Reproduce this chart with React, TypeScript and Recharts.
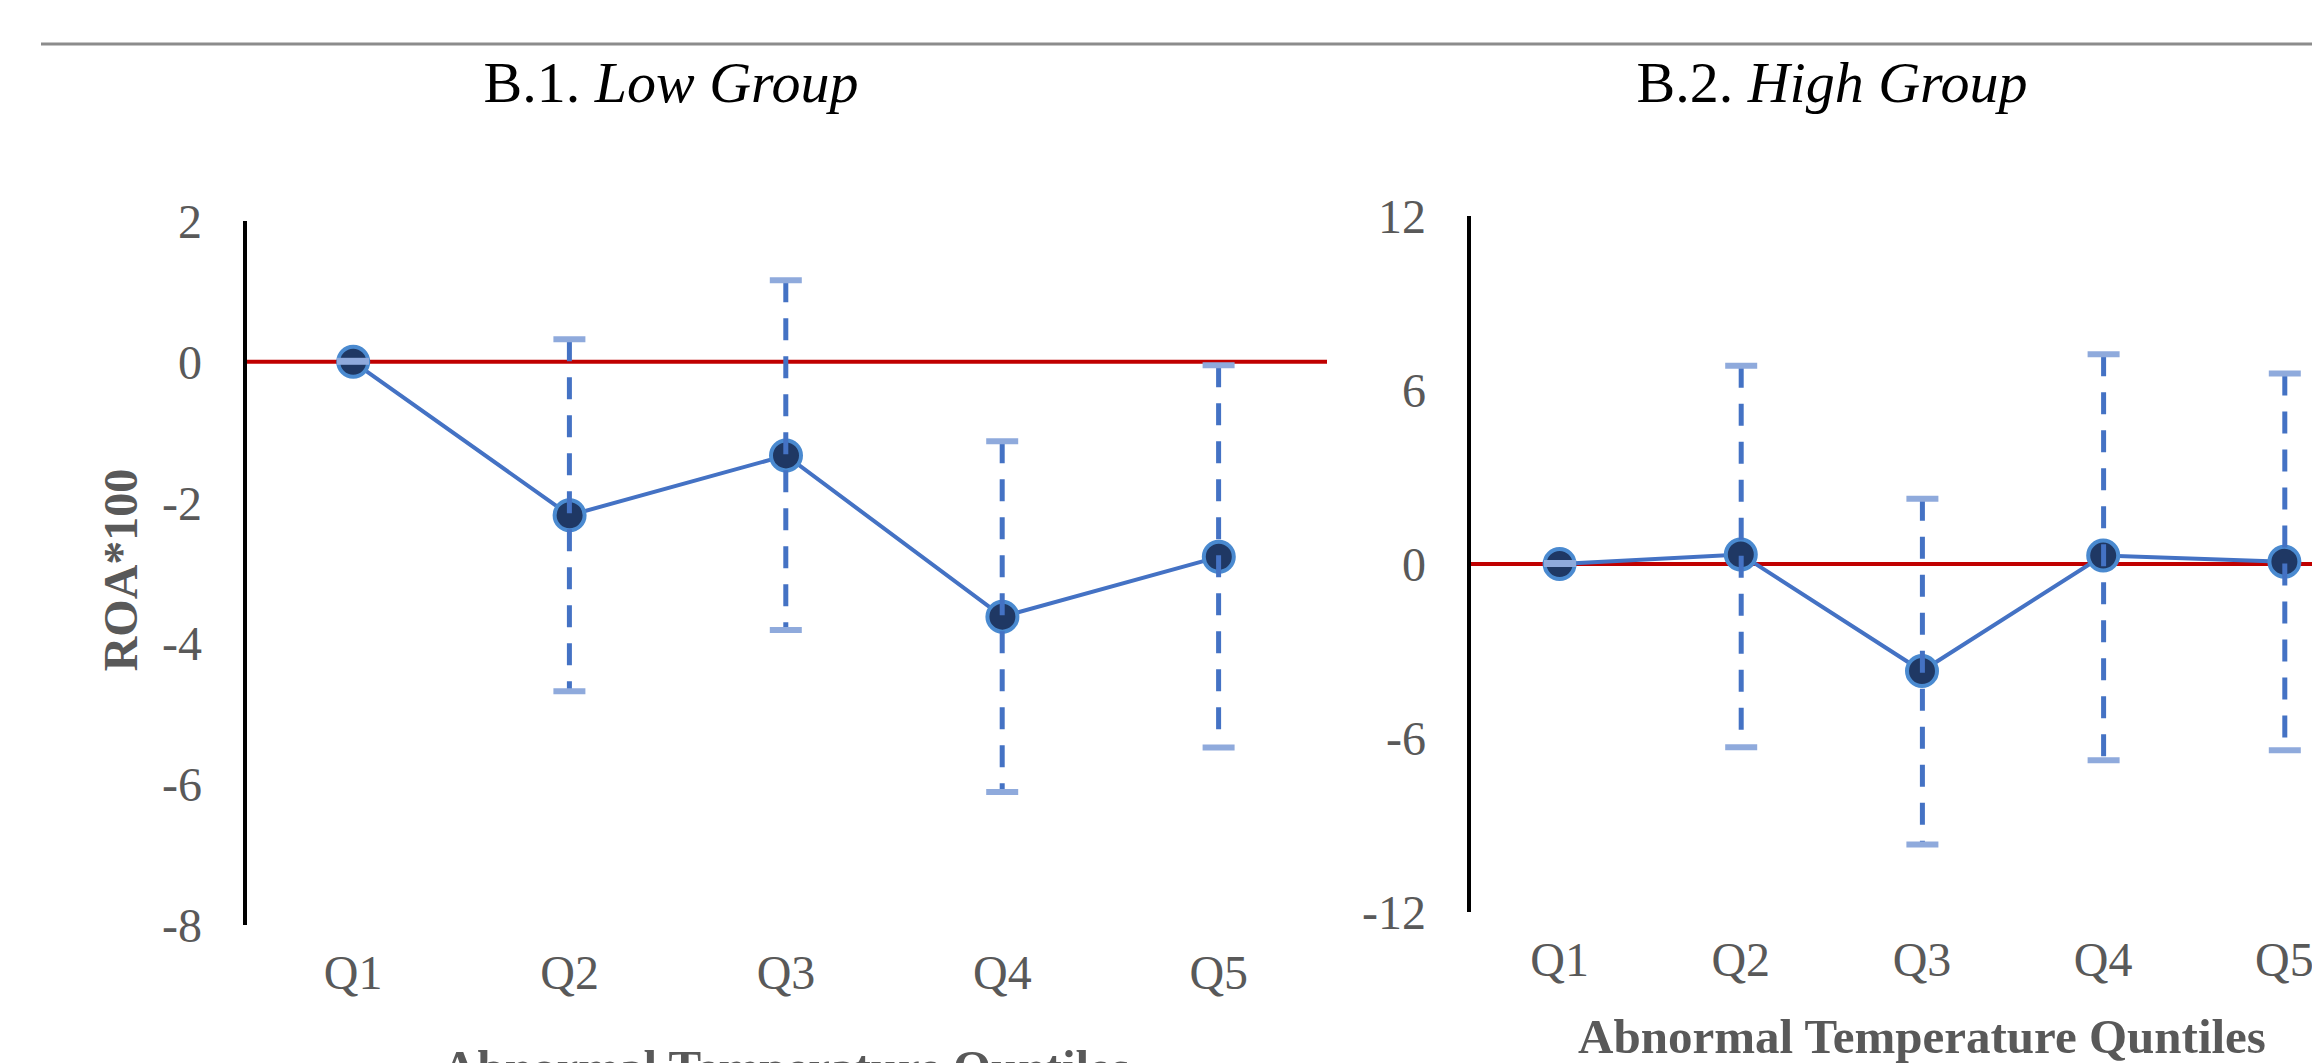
import { ComposedChart, Line, Bar, XAxis, YAxis, ReferenceLine } from 'recharts'

const quintiles = ['Q1', 'Q2', 'Q3', 'Q4', 'Q5']

// B.1 low group: point estimate and confidence bounds (ROA*100)
const lowRoa = [0, -2.18, -1.33, -3.62, -2.77]
const lowUpper = [0, 0.32, 1.16, -1.13, -0.05]
const lowLower = [0, -4.68, -3.81, -6.11, -5.48]
const lowTicks = [-8, -6, -4, -2, 0, 2]

// B.2 high group
const highRoa = [0, 0.33, -3.69, 0.29, 0.08]
const highUpper = [0, 6.84, 2.25, 7.23, 6.57]
const highLower = [0, -6.32, -9.67, -6.77, -6.42]
const highTicks = [-12, -6, 0, 6, 12]

const FONT = '"Liberation Serif", "Times New Roman", serif'
const GREY = '#595959'

const ErrorShape = (props: any) => {
  const { x, y, width, height } = props
  if (x == null || y == null) return null
  const cx = x + width / 2
  const top = Math.min(y, y + height)
  const bottom = Math.max(y, y + height)
  return (
    <g>
      <line x1={cx} x2={cx} y1={top} y2={bottom} stroke="#4472C4" strokeWidth={5} strokeDasharray="22 16" />
      <line x1={x} x2={x + width} y1={top} y2={top} stroke="#8FAADC" strokeWidth={6} />
      <line x1={x} x2={x + width} y1={bottom} y2={bottom} stroke="#8FAADC" strokeWidth={6} />
    </g>
  )
}

function Panel({ roa, lower, upper, ticks, width, margin }: any) {
  const data = quintiles.map((q, i) => ({ q, roa: roa[i], ci: [lower[i], upper[i]] }))
  const tickStyle = { fontSize: 48, fill: GREY, fontFamily: FONT }
  return (
    <ComposedChart width={width} height={1063} data={data} margin={margin}>
      <XAxis dataKey="q" axisLine={false} tickLine={false} tickSize={0} tickMargin={30} height={60} tick={tickStyle} />
      <YAxis
        domain={[ticks[0], ticks[ticks.length - 1]]}
        ticks={ticks}
        width={100}
        tickLine={false}
        tickSize={0}
        tickMargin={43}
        axisLine={{ stroke: '#000', strokeWidth: 4 }}
        tick={tickStyle}
      />
      <ReferenceLine y={0} stroke="#C00000" strokeWidth={4} />
      <Line
        type="linear"
        dataKey="roa"
        stroke="#4472C4"
        strokeWidth={4}
        dot={{ r: 15, fill: '#1F3864', stroke: '#4A8AD0', strokeWidth: 4 }}
        activeDot={false}
        isAnimationActive={false}
      />
      <Bar dataKey="ci" barSize={32} minPointSize={1} shape={ErrorShape} isAnimationActive={false} zIndex={1100} />
    </ComposedChart>
  )
}

export default function App() {
  return (
    <div style={{ position: 'absolute', left: 0, top: 0, width: 2312, height: 1063, overflow: 'hidden', background: '#fff' }}>
      <svg width={2312} height={1063} style={{ position: 'absolute', left: 0, top: 0 }}>
        <line x1={41} x2={2312} y1={44} y2={44} stroke="#8c8c8c" strokeWidth={3} />
        <text x={671} y={102} textAnchor="middle" fontSize={58} fontFamily={FONT} fill="#000">
          B.1. <tspan fontStyle="italic">Low Group</tspan>
        </text>
        <text x={1832} y={102} textAnchor="middle" fontSize={58} fontFamily={FONT} fill="#000">
          B.2. <tspan fontStyle="italic">High Group</tspan>
        </text>
        <text
          x={120}
          y={570}
          transform="rotate(-90 120 570)"
          textAnchor="middle"
          dominantBaseline="central"
          fontSize={48}
          fontWeight="bold"
          fontFamily={FONT}
          fill={GREY}
        >
          ROA*100
        </text>
        <text x={786} y={1084} textAnchor="middle" fontSize={49} fontWeight="bold" fontFamily={FONT} fill={GREY}>
          Abnormal Temperature Quntiles
        </text>
        <text x={1922} y={1053} textAnchor="middle" fontSize={49} fontWeight="bold" fontFamily={FONT} fill={GREY}>
          Abnormal Temperature Quntiles
        </text>
      </svg>
      <div style={{ position: 'absolute', left: 0, top: 0 }}>
        <Panel roa={lowRoa} lower={lowLower} upper={lowUpper} ticks={lowTicks} width={1340} margin={{ top: 221, right: 13, bottom: 78, left: 145 }} />
      </div>
      <div style={{ position: 'absolute', left: 1340, top: 0 }}>
        <Panel roa={highRoa} lower={highLower} upper={highUpper} ticks={highTicks} width={1040} margin={{ top: 216, right: 5, bottom: 91, left: 29 }} />
      </div>
    </div>
  )
}
